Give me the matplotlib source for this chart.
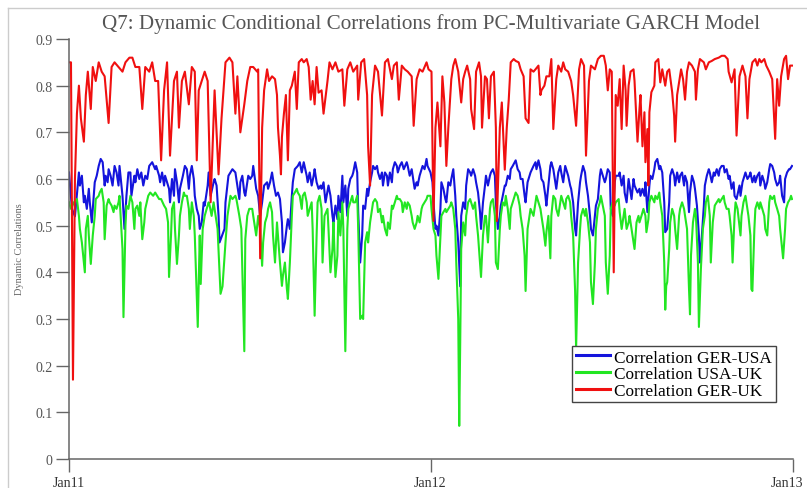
import matplotlib
matplotlib.use("Agg")
import matplotlib.pyplot as plt
from matplotlib.lines import Line2D
import pandas as pd

# (day offset from 2011-01-01, correlation)
ger_usa = [
    (0, .614), (3, .536), (6, .52), (10, .614), (11, .586), (13, .607), (15, .55), (16, .564), (18, .536), (20, .579),
    (21, .55), (23, .507), (25, .564), (26, .593), (28, .607), (30, .628), (32, .643), (34, .636), (36, .586), (37, .607),
    (39, .593), (40, .621), (42, .607), (44, .586), (46, .628), (48, .614), (50, .586), (51, .628), (54, .564), (56, .493),
    (58, .564), (60, .614), (62, .614), (63, .564), (66, .607), (67, .593), (69, .621), (71, .60), (73, .614), (75, .586),
    (77, .607), (79, .60), (81, .628), (84, .636), (87, .621), (88, .628), (91, .607), (92, .593), (94, .614), (96, .586),
    (97, .607), (99, .593), (101, .579), (102, .55), (104, .60), (106, .564), (107, .621), (109, .593), (111, .55), (112, .579),
    (115, .607), (117, .628), (119, .621), (121, .579), (122, .607), (124, .628), (126, .60), (127, .564), (129, .536), (131, .521),
    (132, .493), (134, .507), (136, .55), (137, .543), (140, .586), (141, .614), (143, .564), (146, .593), (147, .60), (149, .586),
    (151, .521), (152, .464), (157, .493), (158, .55), (161, .607), (163, .614), (165, .621), (168, .614), (170, .586), (172, .557),
    (173, .593), (175, .607), (177, .571), (178, .564), (181, .607), (183, .60), (185, .607), (186, .628), (189, .579), (191, .564),
    (193, .521), (195, .55), (197, .586), (200, .593), (201, .579), (203, .593), (205, .614), (207, .586), (209, .564), (211, .571),
    (213, .557), (215, .507), (216, .443), (218, .464), (220, .50), (221, .514), (223, .493), (225, .564), (226, .593), (228, .621),
    (231, .628), (233, .636), (235, .614), (237, .636), (240, .607), (241, .593), (243, .614), (245, .586), (247, .607), (248, .621),
    (250, .593), (252, .579), (254, .586), (255, .579), (257, .593), (259, .55), (262, .586), (264, .564), (266, .521), (267, .507),
    (269, .543), (271, .514), (272, .564), (274, .529), (276, .607), (277, .55), (279, .586), (281, .521), (282, .579), (284, .60),
    (286, .607), (287, .614), (289, .636), (291, .614), (292, .529), (294, .421), (296, .479), (297, .543), (299, .536), (301, .579),
    (302, .564), (304, .593), (306, .614), (307, .628), (309, .621), (311, .628), (312, .614), (314, .60), (316, .614), (317, .586),
    (319, .614), (321, .607), (322, .586), (324, .614), (326, .593), (327, .621), (329, .636), (331, .628), (332, .614), (334, .628),
    (336, .636), (338, .621), (341, .636), (342, .628), (344, .607), (346, .621), (347, .607), (349, .579), (351, .593), (352, .586),
    (354, .607), (356, .621), (357, .628), (359, .621), (361, .643), (362, .628), (365, .614), (367, .593), (368, .55), (370, .493),
    (371, .50), (373, .479), (375, .536), (376, .593), (378, .579), (380, .557), (381, .55), (383, .593), (385, .586), (386, .60),
    (388, .621), (390, .564), (391, .521), (393, .464), (395, .37), (396, .521), (398, .55), (400, .536), (401, .586), (403, .621),
    (405, .614), (406, .607), (408, .621), (410, .607), (411, .593), (413, .571), (415, .529), (416, .493), (418, .55), (420, .586),
    (421, .607), (423, .586), (425, .607), (426, .614), (428, .621), (430, .607), (431, .55), (433, .493), (435, .521), (436, .543),
    (438, .564), (440, .586), (441, .586), (443, .607), (445, .60), (446, .621), (448, .628), (450, .636), (451, .64), (453, .621),
    (455, .614), (456, .60), (458, .60), (460, .564), (461, .55), (463, .593), (465, .607), (466, .614), (469, .628), (471, .636),
    (472, .621), (474, .64), (476, .621), (477, .60), (479, .593), (481, .564), (482, .543), (484, .586), (486, .628), (487, .636),
    (489, .621), (491, .593), (492, .579), (494, .614), (496, .628), (497, .614), (499, .593), (501, .628), (502, .621), (504, .607),
    (506, .586), (507, .579), (509, .55), (511, .493), (512, .479), (514, .55), (516, .593), (517, .607), (519, .628), (521, .614),
    (522, .593), (524, .564), (526, .521), (527, .493), (529, .479), (531, .521), (532, .543), (534, .557), (536, .607), (537, .621),
    (539, .607), (541, .593), (542, .60), (544, .621), (546, .614), (547, .536), (549, .521), (551, .593), (552, .607), (555, .607),
    (556, .614), (558, .586), (560, .607), (561, .571), (563, .55), (565, .60), (566, .586), (568, .557), (570, .60), (571, .586),
    (574, .571), (576, .579), (577, .564), (579, .579), (581, .564), (582, .593), (584, .529), (586, .586), (587, .607), (589, .60),
    (591, .621), (592, .636), (594, .643), (596, .621), (597, .628), (599, .614), (601, .55), (602, .486), (604, .493), (606, .55),
    (607, .607), (609, .621), (611, .607), (612, .586), (614, .614), (616, .593), (617, .607), (619, .614), (621, .586), (622, .607),
    (624, .593), (626, .529), (627, .571), (629, .607), (631, .593), (632, .579), (634, .543), (636, .479), (637, .421), (639, .479),
    (641, .543), (642, .586), (644, .607), (646, .621), (647, .614), (649, .593), (651, .614), (652, .607), (654, .621), (656, .607),
    (657, .621), (659, .628), (661, .628), (662, .614), (664, .621), (666, .60), (667, .607), (669, .579), (671, .593), (672, .564),
    (674, .557), (677, .586), (678, .564), (680, .593), (682, .607), (683, .614), (685, .60), (687, .607), (688, .614), (690, .593),
    (692, .607), (693, .593), (695, .607), (697, .614), (698, .586), (700, .607), (702, .593), (703, .579), (705, .593), (707, .621),
    (708, .632), (710, .628), (712, .614), (713, .60), (715, .586), (717, .593), (718, .607), (720, .564), (722, .55), (723, .60),
    (725, .614), (727, .621), (728, .621), (730, .628),
]

usa_uk = [
    (0, .55), (2, .536), (5, .55), (8, .557), (10, .521), (11, .493), (13, .464), (15, .421), (16, .40), (17, .493),
    (19, .521), (20, .479), (22, .418), (24, .479), (26, .521), (27, .557), (30, .564), (31, .571), (33, .579), (35, .55),
    (36, .471), (38, .543), (40, .557), (41, .55), (43, .543), (45, .529), (46, .543), (48, .536), (50, .55), (51, .564),
    (54, .45), (55, .304), (57, .50), (58, .543), (60, .536), (62, .564), (64, .55), (66, .493), (67, .536), (69, .543),
    (71, .521), (72, .55), (74, .471), (76, .507), (77, .536), (80, .564), (82, .571), (85, .564), (87, .571), (89, .564),
    (91, .557), (93, .557), (96, .543), (98, .536), (100, .507), (101, .39), (103, .479), (104, .536), (106, .55), (107, .493),
    (109, .418), (111, .479), (112, .521), (114, .55), (116, .571), (117, .564), (119, .564), (121, .536), (122, .493), (124, .55),
    (126, .521), (127, .479), (130, .283), (132, .479), (133, .375), (135, .493), (137, .521), (139, .536), (141, .55), (142, .543),
    (144, .521), (146, .55), (147, .536), (150, .493), (152, .40), (153, .354), (155, .37), (158, .464), (160, .521), (162, .55),
    (163, .564), (165, .557), (168, .564), (169, .557), (172, .521), (174, .493), (177, .231), (178, .471), (180, .521), (182, .536),
    (185, .536), (186, .521), (189, .479), (191, .521), (193, .493), (195, .414), (196, .464), (198, .507), (200, .521), (201, .536),
    (203, .55), (205, .529), (206, .479), (208, .421), (210, .507), (211, .479), (213, .421), (215, .371), (216, .393), (218, .421),
    (220, .364), (221, .343), (223, .421), (225, .521), (226, .564), (228, .571), (230, .579), (231, .571), (233, .564), (235, .536),
    (236, .564), (238, .571), (240, .55), (241, .521), (243, .536), (245, .55), (246, .493), (248, .307), (250, .479), (251, .55),
    (253, .564), (255, .536), (256, .421), (258, .521), (261, .536), (262, .493), (264, .40), (266, .45), (267, .507), (269, .39),
    (271, .436), (272, .529), (274, .479), (276, .55), (277, .493), (279, .231), (281, .493), (282, .536), (284, .55), (286, .564),
    (287, .55), (289, .55), (291, .564), (292, .493), (294, .30), (296, .307), (297, .30), (299, .464), (301, .486), (302, .464),
    (304, .507), (306, .536), (307, .55), (309, .557), (311, .55), (312, .529), (314, .536), (316, .507), (317, .521), (319, .493),
    (321, .479), (322, .507), (324, .493), (326, .543), (327, .536), (329, .55), (331, .564), (332, .557), (334, .557), (336, .55),
    (337, .529), (339, .55), (341, .536), (342, .55), (344, .543), (346, .521), (347, .507), (349, .493), (351, .507), (352, .521),
    (354, .507), (356, .536), (357, .543), (359, .55), (361, .557), (362, .564), (365, .564), (366, .536), (368, .493), (370, .479),
    (371, .436), (373, .386), (375, .479), (376, .521), (378, .529), (380, .536), (381, .529), (383, .536), (385, .543), (386, .55),
    (388, .536), (390, .493), (391, .421), (393, .30), (394, .071), (395, .25), (396, .45), (398, .507), (400, .479), (401, .521),
    (403, .55), (405, .557), (406, .55), (408, .536), (410, .55), (411, .521), (413, .479), (415, .421), (416, .39), (418, .479),
    (420, .521), (421, .521), (423, .464), (425, .536), (426, .55), (428, .557), (430, .521), (431, .421), (433, .407), (435, .493),
    (436, .521), (438, .55), (440, .543), (441, .564), (443, .536), (445, .493), (446, .536), (448, .55), (450, .564), (451, .571),
    (453, .564), (455, .543), (456, .521), (458, .493), (460, .436), (461, .36), (463, .493), (465, .521), (466, .536), (469, .521),
    (471, .55), (472, .564), (474, .55), (476, .536), (477, .521), (479, .493), (481, .457), (482, .486), (484, .521), (486, .43),
    (487, .521), (489, .564), (491, .557), (492, .536), (494, .521), (496, .55), (497, .564), (499, .55), (501, .536), (502, .557),
    (504, .564), (506, .55), (507, .521), (509, .479), (511, .36), (512, .236), (514, .421), (516, .493), (517, .521), (519, .536),
    (521, .521), (522, .536), (524, .507), (526, .464), (527, .379), (529, .332), (531, .421), (532, .493), (534, .536), (536, .55),
    (537, .564), (539, .543), (541, .521), (542, .421), (544, .354), (546, .436), (547, .536), (549, .55), (551, .543), (552, .55),
    (555, .557), (556, .529), (558, .493), (560, .521), (561, .536), (563, .493), (565, .507), (566, .521), (568, .493), (570, .464),
    (571, .45), (573, .507), (575, .521), (576, .507), (578, .521), (580, .536), (582, .521), (583, .486), (585, .514), (586, .55),
    (588, .564), (591, .55), (592, .564), (594, .557), (596, .571), (597, .55), (599, .521), (601, .421), (602, .32), (603, .371),
    (604, .379), (606, .45), (607, .507), (609, .536), (611, .521), (612, .493), (614, .45), (616, .521), (617, .536), (619, .55),
    (621, .536), (622, .521), (624, .493), (626, .364), (627, .31), (628, .436), (630, .507), (632, .536), (633, .521), (635, .421),
    (636, .283), (638, .407), (640, .493), (642, .521), (643, .55), (645, .564), (647, .521), (648, .421), (650, .507), (652, .543),
    (654, .55), (656, .557), (657, .55), (659, .557), (661, .564), (662, .55), (664, .536), (666, .536), (667, .521), (669, .479),
    (670, .421), (672, .521), (673, .55), (675, .536), (678, .479), (679, .521), (681, .55), (683, .564), (684, .55), (686, .521),
    (688, .479), (689, .364), (690, .36), (692, .493), (693, .536), (695, .55), (697, .536), (698, .55), (700, .536), (702, .521),
    (703, .493), (705, .479), (707, .55), (708, .564), (710, .557), (712, .564), (713, .55), (715, .536), (717, .521), (718, .493),
    (720, .45), (721, .43), (723, .493), (724, .536), (726, .55), (728, .557), (729, .564), (730, .557),
]

ger_uk = [
    (0, .85), (2, .85), (4, .17), (6, .60), (8, .74), (10, .80), (12, .73), (15, .68), (17, .78), (19, .83),
    (22, .75), (24, .84), (27, .81), (30, .85), (33, .83), (36, .82), (40, .72), (43, .84), (46, .85), (50, .84),
    (54, .83), (57, .85), (61, .86), (64, .86), (67, .84), (71, .84), (74, .75), (77, .84), (81, .83), (84, .85),
    (87, .81), (90, .81), (93, .64), (96, .79), (99, .85), (102, .65), (106, .81), (109, .83), (111, .71), (114, .81),
    (117, .83), (121, .76), (124, .84), (127, .83), (129, .64), (131, .79), (134, .81), (137, .83), (140, .81), (143, .55),
    (147, .79), (151, .61), (154, .73), (158, .85), (162, .86), (165, .85), (168, .74), (170, .82), (173, .70), (177, .76),
    (180, .81), (183, .84), (186, .84), (190, .83), (191, .835), (193, .43), (195, .71), (197, .79), (200, .835), (202, .81),
    (205, .82), (208, .814), (210, .78), (211, .71), (213, .65), (214, .61), (215, .69), (217, .74), (219, .78), (221, .64),
    (223, .79), (225, .80), (228, .83), (230, .75), (232, .85), (235, .857), (237, .85), (240, .857), (242, .84), (244, .77),
    (246, .81), (248, .76), (250, .84), (252, .785), (255, .79), (257, .74), (261, .81), (263, .85), (266, .835), (269, .85),
    (272, .83), (276, .835), (278, .757), (281, .835), (284, .85), (287, .83), (291, .843), (292, .77), (295, .85), (298, .857),
    (301, .78), (302, .67), (304, .586), (306, .78), (309, .843), (312, .83), (316, .736), (319, .85), (322, .857), (326, .814),
    (328, .843), (331, .85), (333, .77), (336, .843), (339, .835), (342, .83), (346, .82), (348, .714), (351, .814), (354, .835),
    (357, .83), (361, .85), (363, .835), (366, .83), (368, .51), (370, .71), (372, .764), (375, .67), (377, .82), (379, .764),
    (381, .628), (383, .71), (386, .814), (388, .843), (390, .857), (393, .83), (396, .764), (398, .814), (400, .83), (402, .843),
    (405, .814), (406, .75), (409, .707), (411, .83), (414, .85), (416, .82), (417, .71), (420, .82), (422, .814), (424, .73),
    (426, .82), (429, .83), (431, .71), (432, .51), (435, .71), (437, .764), (440, .62), (442, .71), (444, .77), (446, .85),
    (449, .857), (451, .853), (454, .85), (456, .835), (459, .82), (461, .73), (464, .72), (466, .835), (469, .83), (471, .835),
    (474, .843), (476, .78), (477, .79), (480, .80), (482, .82), (485, .82), (487, .857), (489, .707), (492, .814), (494, .843),
    (497, .83), (499, .85), (501, .835), (504, .83), (507, .81), (509, .78), (512, .714), (515, .835), (517, .857), (520, .843),
    (522, .65), (525, .81), (527, .843), (531, .835), (534, .857), (537, .864), (540, .864), (542, .843), (544, .79), (546, .835),
    (548, .83), (550, .40), (552, .78), (554, .757), (556, .814), (558, .707), (560, .843), (562, .79), (563, .714), (565, .80),
    (567, .83), (570, .835), (571, .81), (574, .68), (576, .75), (577, .78), (579, .67), (581, .743), (582, .636), (584, .707),
    (585, .586), (586, .743), (588, .786), (591, .80), (592, .85), (595, .857), (597, .807), (599, .835), (602, .80), (604, .83),
    (606, .835), (609, .786), (611, .736), (612, .68), (614, .78), (616, .807), (618, .835), (620, .814), (622, .77), (624, .83),
    (626, .85), (629, .843), (632, .83), (633, .77), (635, .835), (637, .857), (641, .85), (643, .835), (646, .85), (649, .853),
    (652, .857), (656, .86), (659, .864), (662, .864), (665, .857), (666, .83), (669, .807), (672, .835), (674, .693), (677, .82),
    (680, .843), (683, .82), (685, .73), (687, .814), (690, .85), (693, .857), (695, .843), (697, .857), (699, .85), (702, .857),
    (704, .843), (707, .83), (710, .814), (713, .686), (715, .814), (717, .757), (719, .82), (722, .857), (724, .864), (726, .814),
    (728, .843), (730, .843),
]

series = [("Correlation GER-USA", ger_usa, "#1414dc"),
          ("Correlation USA-UK", usa_uk, "#22e622"),
          ("Correlation GER-UK", ger_uk, "#f01010")]

y_ticks = [0, .1, .2, .3, .4, .5, .6, .7, .8, .9]
y_labels = ["0", "0.1", "0.2", "0.3", "0.4", "0.5", "0.6", "0.7", "0.8", "0.9"]
x_ticks = ["2011-01-01", "2012-01-01", "2013-01-01"]
x_labels = ["Jan11", "Jan12", "Jan13"]

START = pd.Timestamp("2011-01-01")
SERIF = ["Liberation Serif", "DejaVu Serif"]
GREY = "#555555"

fig = plt.figure(figsize=(8.07, 4.89), dpi=100)
ax = fig.add_axes([69 / 807, 29 / 489, 724 / 807, 420 / 489])

for name, pts, col in series:
    days, vals = zip(*pts)
    dates = START + pd.to_timedelta(list(days), unit="D")
    ax.plot(dates, vals, color=col, lw=1.5, label=name)

ax.set_xlim(pd.Timestamp(x_ticks[0]), pd.Timestamp(x_ticks[-1]))
ax.set_ylim(0, 0.9)
ax.set_yticks(y_ticks)
ax.set_yticklabels(y_labels, family=SERIF, fontsize=10, color=GREY)
ax.set_xticks([pd.Timestamp(t) for t in x_ticks])
# last label sits on the right edge of the picture: draw it a few points to the left so it is not cut
ax.set_xticklabels(x_labels[:-1] + [""], family=SERIF, fontsize=10, color="#333333")
ax.annotate(x_labels[-1], xy=(pd.Timestamp(x_ticks[-1]), 0), xycoords=("data", "axes fraction"),
            xytext=(-4, -12), textcoords="offset points", ha="center", va="top",
            family=SERIF, fontsize=10, color="#333333", annotation_clip=False)
ax.tick_params(axis="both", direction="out", length=9.5, width=1.0, color="#666666", pad=2.5)
for s in ("top", "right"):
    ax.spines[s].set_visible(False)
for s in ("left", "bottom"):
    ax.spines[s].set_color("#666666")
    ax.spines[s].set_linewidth(1.1)

handles = [Line2D([], [], color=c, lw=2.2) for _, _, c in series]
leg = ax.legend(handles, [n for n, _, _ in series], loc="upper left", bbox_to_anchor=(0.695, 0.269),
                borderaxespad=0, prop={"family": SERIF, "size": 12.4}, handlelength=2.0, handletextpad=0.25,
                labelspacing=0.04, borderpad=0.2, fancybox=False, framealpha=1)
leg.get_frame().set_edgecolor("#444444")
leg.get_frame().set_linewidth(1.0)

fig.text(431 / 807, 1 - 24 / 489, "Q7: Dynamic Conditional Correlations from PC-Multivariate GARCH Model",
         ha="center", va="center", family=SERIF, fontsize=15.2, color="#555555")
fig.text(20 / 807, 1 - 249 / 489, "Dynamic Correlations", rotation=90, ha="center", va="center",
         family=SERIF, fontsize=7.5, color="#666666")

# light frame around the picture (top and left edge visible in the reference)
fig.add_artist(Line2D([8 / 807, 1], [1 - 9 / 489] * 2, transform=fig.transFigure, color="#cccccc", lw=1))
fig.add_artist(Line2D([8 / 807] * 2, [0, 1 - 9 / 489], transform=fig.transFigure, color="#cccccc", lw=1))

fig.savefig("out.png", dpi=100)
